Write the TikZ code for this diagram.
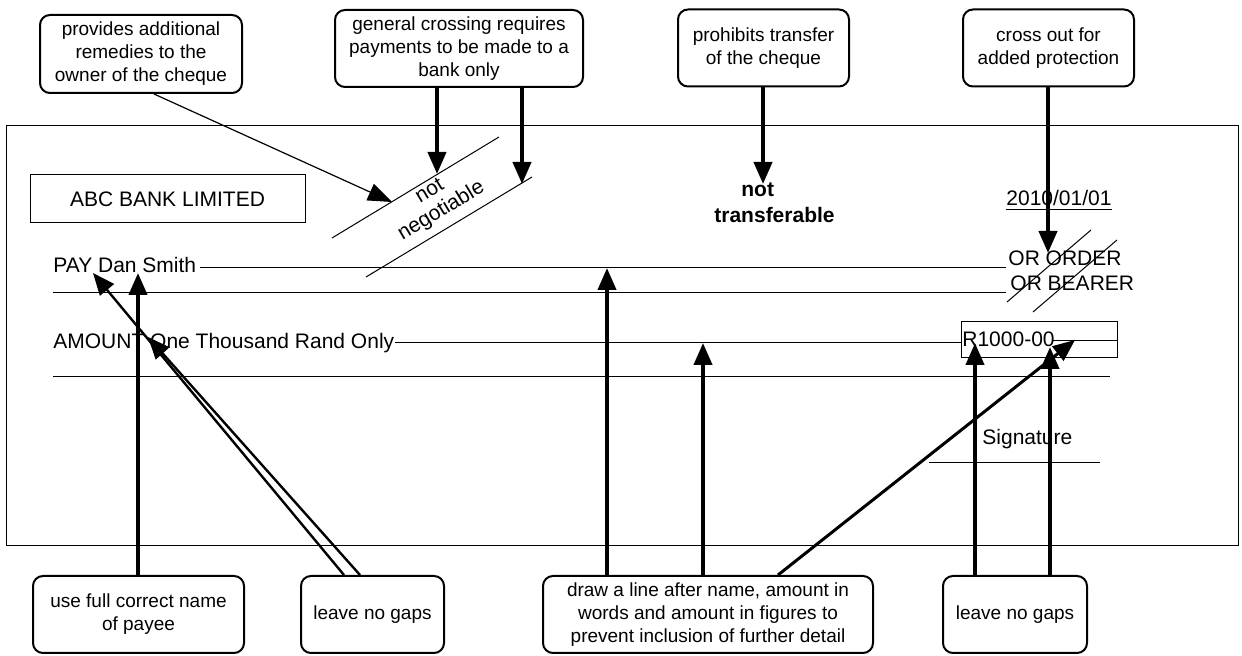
\documentclass[tikz,border=0pt]{standalone}
\usepackage{fontspec}
\setmainfont{Liberation Sans}
\usetikzlibrary{arrows.meta, positioning}

\begin{document}
\begin{tikzpicture}[x=0.5pt, y=-0.5pt, cbox/.style={draw, line width=1pt, rounded corners=5pt, align=center, inner sep=0pt, minimum height=38.5pt, font=\fontsize{9.5}{11.5}\selectfont}, ctxt/.style={inner sep=0pt, anchor=base west, font=\fontsize{10.5}{12.6}\selectfont}, thn/.style={line width=0.5pt}, thk/.style={line width=2pt, -{Triangle[width=9pt, length=11pt]}}, ptr/.style={line width=0.6pt, -{Triangle[width=9pt, length=12pt]}}, dbl/.style={line width=1.2pt, -{Triangle[width=9pt, length=11pt]}}, mid/.style={line width=1.5pt, -{Triangle[width=9pt, length=11pt]}}]

          \useasboundingbox (0,0) rectangle (1242,656);

          \draw[thn] (6,126) rectangle (1238,546);
          \node[draw, thn, minimum width=137.5pt, minimum height=24pt, font=\fontsize{10.5}{12.6}\selectfont] at (167.5,199) (bank) {ABC BANK LIMITED};

          \node[cbox, minimum width=101pt, minimum height=39pt] at (141,54) (remedy) {provides additional\\remedies to the\\owner of the cheque};
          \node[cbox, minimum width=124pt] at (459,48.5) (general) {general crossing requires\\payments to be made to a\\bank only};
          \node[cbox, minimum width=85.5pt] at (763.5,48) (prohibit) {prohibits transfer\\of the cheque};
          \node[cbox, minimum width=85.5pt] at (1048.5,48) (crossout) {cross out for\\added protection};

          \node[cbox, minimum width=105.5pt] at (138.5,614.5) (fullname) {use full correct name\\of payee};
          \node[cbox, minimum width=71.5pt] at (372.5,614.5) (gapsl) {leave no gaps};
          \node[cbox, minimum width=165pt] at (708,614.5) (drawline) {draw a line after name, amount in\\words and amount in figures to\\prevent inclusion of further detail};
          \node[cbox, minimum width=72pt] at (1015,614.5) (gapsr) {leave no gaps};

          \node[ctxt] at (53,273) (pay) {PAY Dan Smith};
          \node[ctxt] at (53,349) (amount) {AMOUNT One Thousand Rand Only};
          \node[ctxt] at (1006,206) (date) {\underline{2010/01/01}};
          \node[ctxt] at (1008,266) (order) {OR ORDER};
          \node[ctxt] at (1010,291) (bearer) {OR BEARER};
          \node[ctxt] at (962,347) (figs) {R1000-00};
          \node[ctxt] at (982,445) (sign) {Signature};
          \node[ctxt, font=\fontsize{10.5}{12.6}\selectfont\bfseries] at (741,197) (nottr) {not};
          \node[ctxt, font=\fontsize{10.5}{12.6}\selectfont\bfseries] at (714,223) (transf) {transferable};
          \node[rotate=31, align=center, inner sep=0pt, font=\fontsize{10.5}{11.3}\selectfont] at (436,202) (negot) {not\\negotiable};

          \draw[thn] (200,268) -- (1006,268);
          \draw[thn] (53,293) -- (1006,293);
          \draw[thn] (395,343) -- (961,343);
          \draw[thn] (961,322) rectangle (1117,358);
          \draw[thn] (1052,341) -- (1117,341);
          \draw[thn] (53,377) -- (1110,377);
          \draw[thn] (929,463) -- (1100,463);
          \draw[thn] (332,238) -- (499,137);
          \draw[thn] (366,277) -- (532,177);
          \draw[thn] (1007,302) -- (1091,230);
          \draw[thn] (1033,312) -- (1117,240);

          \coordinate (tipA) at (392,202);
          \coordinate (tipB) at (437,174);
          \coordinate (tipC) at (522,184);
          \coordinate (tipD) at (763,184);
          \coordinate (tipE) at (1048,253);
          \coordinate (tipF) at (138,273);
          \coordinate (tipG) at (93,273);
          \coordinate (tipH) at (148,337);
          \coordinate (tipI) at (607,268);
          \coordinate (tipJ) at (703,343);
          \coordinate (tipK) at (1075,340);
          \coordinate (tipL) at (975,343);
          \coordinate (tipM) at (1050,347);

          \draw[ptr] ([xshift=6.5pt]remedy.south) -- (tipA);
          \draw[thk] (general.south -| tipB) -- (tipB);
          \draw[thk] (general.south -| tipC) -- (tipC);
          \draw[thk] (prohibit.south -| tipD) -- (tipD);
          \draw[thk] (crossout.south -| tipE) -- (tipE);
          \draw[thk] (fullname.north -| tipF) -- (tipF);
          \draw[dbl] ([xshift=-14.25pt]gapsl.north) -- (tipG);
          \draw[dbl] ([xshift=-6.25pt]gapsl.north) -- (tipH);
          \draw[thk] (drawline.north -| tipI) -- (tipI);
          \draw[thk] (drawline.north -| tipJ) -- (tipJ);
          \draw[mid] ([xshift=35pt]drawline.north) -- (tipK);
          \draw[thk] (gapsr.north -| tipL) -- (tipL);
          \draw[thk] (gapsr.north -| tipM) -- (tipM);

      \end{tikzpicture}
\end{document}
